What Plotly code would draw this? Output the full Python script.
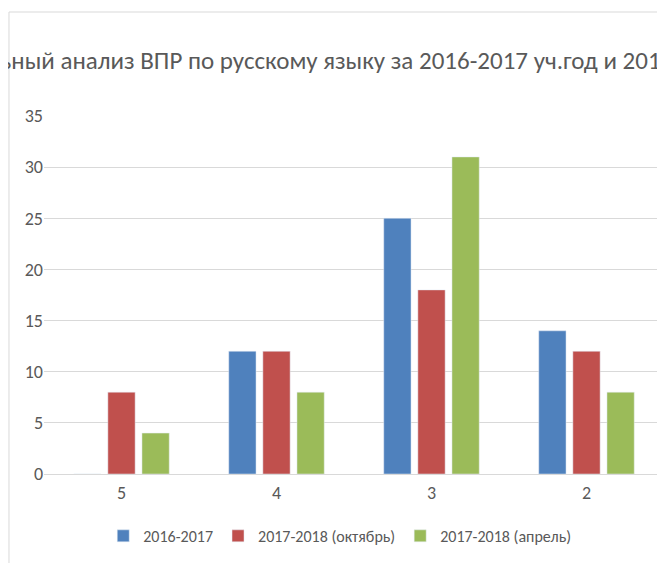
import plotly.graph_objects as go

# оценки по ВПР
categories = ["5", "4", "3", "2"]
series_names = ["2016-2017", "2017-2018 (октябрь)", "2017-2018 (апрель)"]
vals_2016_2017 = [0, 12, 25, 14]
vals_2017_2018_oct = [8, 12, 18, 12]
vals_2017_2018_apr = [4, 8, 31, 8]
y_ticks = [0, 5, 10, 15, 20, 25, 30, 35]

title_text = "Сравнительный анализ ВПР по русскому языку за 2016-2017 уч.год и 2017-2018 уч.год"

colors = ["#4f81bd", "#c0504d", "#9bbb59"]
font_family = "Carlito, Liberation Sans Narrow, Liberation Sans, Arial, sans-serif"

fig = go.Figure()
for name, vals, color in zip(
    series_names,
    [vals_2016_2017, vals_2017_2018_oct, vals_2017_2018_apr],
    colors,
):
    fig.add_trace(go.Bar(name=name, x=categories, y=vals, marker_color=color))

# страница даёт отступ 8px у body, поэтому поля уменьшены на 8
fig.update_layout(
    width=665,
    height=563,
    margin=dict(l=36, r=9, t=108, b=97),
    paper_bgcolor="white",
    plot_bgcolor="white",
    barmode="group",
    bargap=0.34,
    bargroupgap=0.2,
    font=dict(family=font_family, color="#595959", size=18),
    title=dict(
        text=title_text,
        font=dict(family=font_family, size=25, color="#595959"),
        x=0.485,
        xref="paper",
        xanchor="center",
        y=1 - 52 / 563,
        yref="container",
        yanchor="middle",
    ),
    legend=dict(
        orientation="h",
        x=0.477,
        xanchor="center",
        y=-0.173,
        yanchor="middle",
        font=dict(size=16, color="#595959"),
        itemwidth=30,
        traceorder="normal",
    ),
    shapes=[
        dict(
            type="rect",
            xref="paper",
            yref="paper",
            x0=-0.0565,
            x1=1.2,
            y0=-0.4,
            y1=1.2905,
            line=dict(color="#d9d9d9", width=1),
            layer="below",
        )
    ],
)

fig.update_yaxes(
    range=[0, 35],
    tickvals=y_ticks,
    showgrid=True,
    gridcolor="#d9d9d9",
    gridwidth=1,
    zeroline=True,
    zerolinecolor="#d9d9d9",
    zerolinewidth=1,
    showline=False,
    ticks="",
)
fig.update_xaxes(
    showgrid=False,
    showline=False,
    ticks="",
    ticklabelstandoff=6,
)

fig.write_html("out.html")
